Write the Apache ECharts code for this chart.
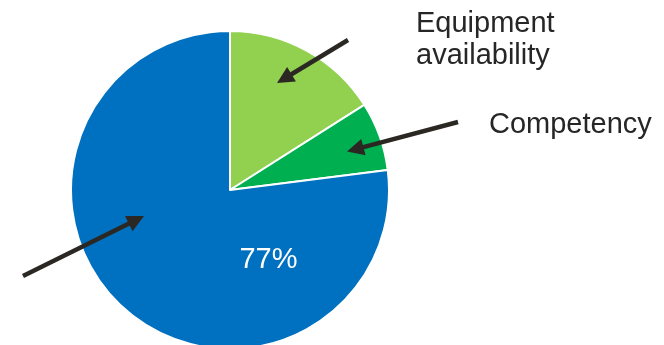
<!DOCTYPE html>
<html>
<head>
<meta charset="utf-8">
<script src="https://cdn.jsdelivr.net/npm/echarts@6/dist/echarts.min.js"></script>
<style>html,body{margin:0;padding:0;background:#fff}#c{width:664px;height:345px}</style>
</head>
<body>
<div id="c"></div>
<script>
var categories = ['Equipment availability', 'Competency', 'Other'];
var values = [16, 7, 77];
var colors = ['#92D050', '#00B050', '#0070C0'];

var chart = echarts.init(document.getElementById('c'), null, {renderer: 'canvas'});
var FONT = '"Liberation Sans", Arial, sans-serif';
var INK = '#2B2824';

function arrow(x1, y1, x2, y2) {
  var dx = x2 - x1, dy = y2 - y1, L = Math.sqrt(dx*dx + dy*dy);
  var ux = dx / L, uy = dy / L, head = 17, hw = 8.5;
  var bx = x2 - ux * head, by = y2 - uy * head;
  return [
    {type: 'line', shape: {x1: x1, y1: y1, x2: bx + ux*2, y2: by + uy*2}, style: {stroke: INK, lineWidth: 4.5}, z: 100},
    {type: 'polygon', shape: {points: [[x2, y2], [bx - uy*hw, by + ux*hw], [bx + uy*hw, by - ux*hw]]}, style: {fill: INK}, z: 100}
  ];
}

var graphics = [].concat(
  arrow(348, 40, 277, 83),
  arrow(458, 122, 347, 151.5),
  arrow(23, 276, 144, 216),
  [
    {type: 'text', left: 416, top: 8, style: {text: 'Equipment\navailability', font: '29px ' + FONT, fill: '#262626', lineHeight: 32}, z: 100},
    {type: 'text', left: 489, top: 110, style: {text: 'Competency', font: '29px ' + FONT, fill: '#262626'}, z: 100}
  ]
);

chart.setOption({
  animation: false,
  backgroundColor: '#fff',
  series: [{
    type: 'pie',
    center: [230, 190],
    radius: 159,
    startAngle: 90,
    clockwise: true,
    avoidLabelOverlap: false,
    itemStyle: {borderColor: '#fff', borderWidth: 2},
    labelLine: {show: false},
    data: categories.map(function (c, i) {
      var d = {name: c, value: values[i], itemStyle: {color: colors[i]}, label: {show: false}};
      if (i === 2) {
        d.label = {show: true, position: 'inside', formatter: '{d}%', color: '#fff', fontSize: 29, fontFamily: FONT, offset: [93, 8]};
      }
      return d;
    })
  }],
  graphic: graphics
});
</script>
</body>
</html>
